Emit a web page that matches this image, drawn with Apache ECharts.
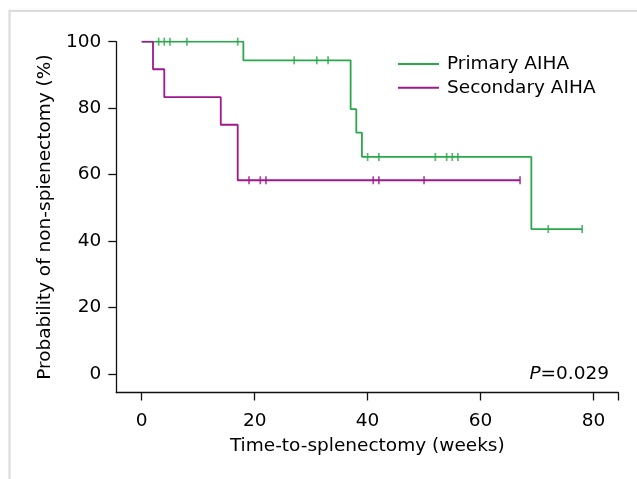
<!DOCTYPE html>
<html>
<head>
<meta charset="utf-8">
<script src="https://cdn.jsdelivr.net/npm/echarts@6/dist/echarts.min.js"></script>
<style>
html,body{margin:0;padding:0;background:#fff;}
#chart{width:637px;height:479px;}
</style>
</head>
<body>
<div id="chart"></div>
<script>
// Kaplan-Meier step data: [time (weeks), probability (%)]
const primaryTimes = [0, 18, 37, 38, 39, 69, 78];
const primaryValues = [100, 94.4, 79.7, 72.6, 65.3, 43.6, 43.6];
const secondaryTimes = [0, 2, 4, 14, 17, 67];
const secondaryValues = [100, 91.7, 83.3, 75, 58.3, 58.3];
// censor marks
const primaryCensorTimes = [3, 4, 5, 8, 17, 27, 31, 33, 40, 42, 52, 54, 55, 56, 72, 78];
const primaryCensorValues = [100, 100, 100, 100, 100, 94.4, 94.4, 94.4, 65.3, 65.3, 65.3, 65.3, 65.3, 65.3, 43.6, 43.6];
const secondaryCensorTimes = [19, 21, 22, 41, 42, 50, 67];
const secondaryCensorValues = [58.3, 58.3, 58.3, 58.3, 58.3, 58.3, 58.3];
const xTicks = [0, 20, 40, 60, 80];
const yTicks = [0, 20, 40, 60, 80, 100];
const seriesNames = ['Primary AIHA', 'Secondary AIHA'];
const pText = '0.029';

const GREEN = '#2aa84a';
const PURPLE = '#a0188c';
const FONT = 'DejaVu Sans';
const FS = 18.5;
const TXT = '#000';

const zip = (a, b) => a.map((v, i) => [v, b[i]]);

const chart = echarts.init(document.getElementById('chart'), null, {renderer: 'canvas'});
chart.setOption({
  animation: false,
  backgroundColor: '#fff',
  textStyle: {fontFamily: FONT},
  grid: {left: 116.3, right: 18.7, top: 41.7, bottom: 86.5, containLabel: false},
  xAxis: {
    type: 'value', min: -4.5, max: 84.4,
    name: 'Time-to-splenectomy (weeks)', nameLocation: 'middle', nameGap: 44,
    nameTextStyle: {fontFamily: FONT, fontSize: FS, color: TXT},
    axisLine: {show: true, onZero: false, lineStyle: {color: '#111', width: 1.3}},
    axisTick: {show: true, inside: false, length: 8, customValues: xTicks.concat([84.4]), lineStyle: {color: '#111', width: 1.3}},
    axisLabel: {customValues: xTicks, margin: 19, fontFamily: FONT, fontSize: FS, color: TXT, showMinLabel: true, showMaxLabel: true},
    splitLine: {show: false}
  },
  yAxis: {
    type: 'value', min: -5.6, max: 100,
    name: 'Probability of non-spienectomy (%)', nameLocation: 'middle', nameGap: 62,
    nameTextStyle: {fontFamily: FONT, fontSize: FS, color: TXT},
    axisLine: {show: true, onZero: false, lineStyle: {color: '#111', width: 1.3}},
    axisTick: {show: true, inside: false, length: 8, customValues: yTicks, lineStyle: {color: '#111', width: 1.3}},
    axisLabel: {customValues: yTicks, margin: 15, fontFamily: FONT, fontSize: FS, color: TXT, showMinLabel: true, showMaxLabel: true},
    splitLine: {show: false}
  },
  legend: {
    orient: 'vertical', left: 393, top: 48,
    itemWidth: 41, itemHeight: 2, itemGap: 1.7, icon: 'rect',
    data: seriesNames,
    textStyle: {fontFamily: FONT, fontSize: FS, color: TXT, lineHeight: 22, padding: [0, 0, 0, 3]}
  },
  series: [
    {
      name: seriesNames[0], type: 'line', step: 'end', data: zip(primaryTimes, primaryValues),
      symbol: 'none', color: GREEN, lineStyle: {color: GREEN, width: 1.8}, z: 2
    },
    {
      name: seriesNames[1], type: 'line', step: 'end', data: zip(secondaryTimes, secondaryValues),
      symbol: 'none', color: PURPLE, lineStyle: {color: PURPLE, width: 1.8}, z: 3
    },
    {
      name: 'pc', type: 'scatter', data: zip(primaryCensorTimes, primaryCensorValues),
      symbol: 'rect', symbolSize: [1.7, 8], itemStyle: {color: GREEN}, z: 4, silent: true
    },
    {
      name: 'sc', type: 'scatter', data: zip(secondaryCensorTimes, secondaryCensorValues),
      symbol: 'rect', symbolSize: [1.7, 8], itemStyle: {color: PURPLE}, z: 4, silent: true
    }
  ],
  graphic: [
    {
      type: 'rect', silent: true, z: -1,
      shape: {x: 9.5, y: 10.8, width: 700, height: 600},
      style: {fill: 'none', stroke: '#dcdcdc', lineWidth: 2.2}
    },
    {
      type: 'text', right: 28, top: 365, silent: true,
      style: {
        text: '{i|P}=' + pText,
        rich: {i: {fontStyle: 'italic', fontFamily: FONT, fontSize: FS, fill: TXT}},
        font: FS + 'px ' + FONT, fill: TXT
      }
    }
  ]
});
</script>
</body>
</html>
